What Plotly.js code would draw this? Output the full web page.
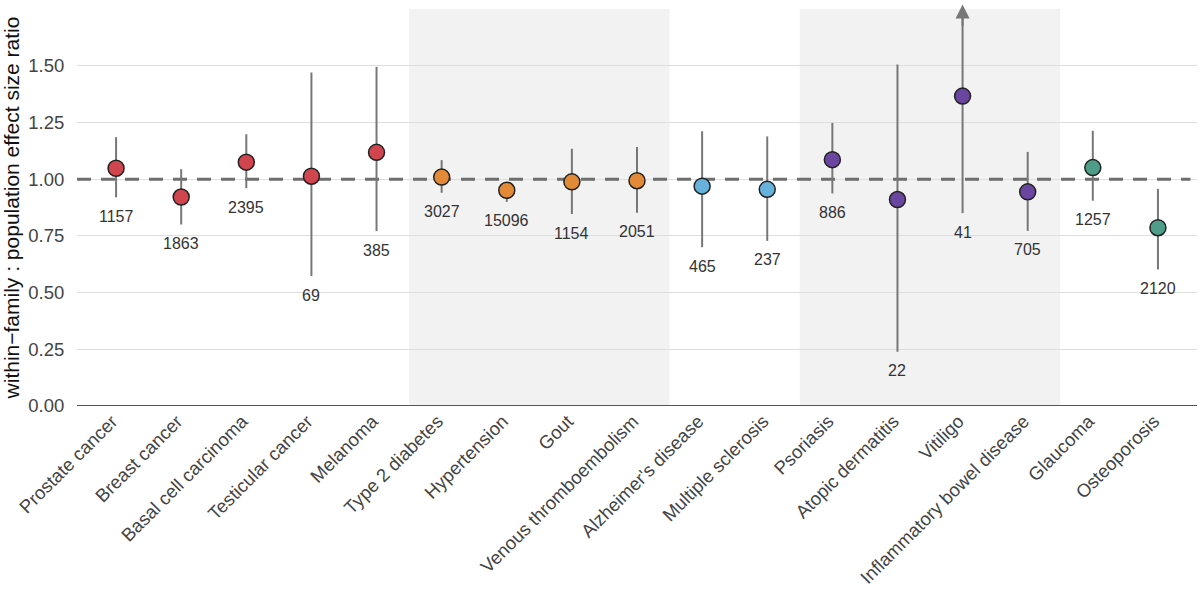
<!DOCTYPE html>
<html>
<head>
<meta charset="utf-8">
<script src="https://cdn.plot.ly/plotly-3.0.1.min.js"></script>
<style>html,body{margin:0;padding:0;background:#fff;}#chart{width:1200px;height:616px;}</style>
</head>
<body>
<div id="chart"></div>
<script>
const categories = ["Prostate cancer","Breast cancer","Basal cell carcinoma","Testicular cancer","Melanoma",
  "Type 2 diabetes","Hypertension","Gout","Venous thromboembolism",
  "Alzheimer's disease","Multiple sclerosis",
  "Psoriasis","Atopic dermatitis","Vitiligo","Inflammatory bowel disease",
  "Glaucoma","Osteoporosis"];
const groups = ["cancer","cancer","cancer","cancer","cancer",
  "metabolic","metabolic","metabolic","metabolic",
  "neuro","neuro",
  "immune","immune","immune","immune",
  "other","other"];
const ratio = [1.048,0.921,1.075,1.013,1.118, 1.009,0.951,0.988,0.993, 0.969,0.955, 1.086,0.910,1.366,0.944, 1.051,0.786];
const upper = [1.185,1.044,1.198,1.470,1.495, 1.084,0.985,1.134,1.142, 1.211,1.188, 1.248,1.505,1.770,1.120, 1.213,0.957];
const lower = [0.920,0.800,0.960,0.573,0.771, 0.940,0.900,0.846,0.852, 0.700,0.728, 0.937,0.239,0.850,0.772, 0.905,0.602];
const nCases = ["1157","1863","2395","69","385","3027","15096","1154","2051","465","237","886","22","41","705","1257","2120"];
const groupColors = {cancer:"#d0454e", metabolic:"#e38a38", neuro:"#66b2dc", immune:"#6a46a0", other:"#4f9d88"};
const shadedGroups = ["metabolic","immune"];
const yTickVals = [0,0.25,0.5,0.75,1.0,1.25,1.5,1.75];
const yTickText = ["0.00","0.25","0.50","0.75","1.00","1.25","1.50",""];
const yMax = 1.75;
const reference = 1.0;

const xIdx = categories.map((c,i)=>i);
const xRange = [-0.6, categories.length-0.4];
const font = "Liberation Sans, Arial, Helvetica, sans-serif";

const traces = [
{
  type:"scatter", mode:"lines",
  x: [xRange[0], xRange[1]-0.1], y:[reference, reference],
  line:{color:"#6e6e6e", width:3, dash:"14px,10px"},
  hoverinfo:"skip", showlegend:false
},
{
  type:"scatter", mode:"markers",
  x: xIdx, y: ratio,
  error_y:{type:"data", symmetric:false,
    array: upper.map((u,i)=>u-ratio[i]),
    arrayminus: lower.map((l,i)=>ratio[i]-l),
    color:"#777777", thickness:2, width:0},
  marker:{size:16, color: groups.map(g=>groupColors[g]), line:{color:"#222", width:1.5}},
  hoverinfo:"skip", showlegend:false
}];

const shapes = [];
shadedGroups.forEach(g=>{
  const idx = xIdx.filter(i=>groups[i]===g);
  shapes.push({type:"rect", layer:"below", xref:"x", yref:"paper",
    x0: Math.min(...idx)-0.5, x1: Math.max(...idx)+0.5, y0:0, y1:1,
    fillcolor:"#f2f2f2", line:{width:0}});
});
shapes.push({type:"line", layer:"above", xref:"paper", yref:"y", x0:0, x1:1, y0:0, y1:0,
  line:{color:"#555", width:2}});

const annotations = lower.map((l,i)=>({
  x:i, y:l, xref:"x", yref:"y", text:nCases[i], showarrow:false,
  yanchor:"middle", yshift:-19, font:{family:font, size:16, color:"#333"}
}));
upper.forEach((u,i)=>{
  if(u>yMax){
    annotations.push({x:i, y:u, ax:i, ay:yMax-0.08, xref:"x", yref:"y", axref:"x", ayref:"y",
      text:"", showarrow:true, arrowhead:2, arrowsize:1.4, arrowwidth:2, arrowcolor:"#777777"});
  }
});

const layout = {
  width:1200, height:616,
  margin:{l:77, r:3, t:9, b:210},
  paper_bgcolor:"#fff", plot_bgcolor:"rgba(0,0,0,0)",
  font:{family:font, color:"#444"},
  xaxis:{range:xRange, tickmode:"array", tickvals:xIdx, ticktext:categories,
    tickangle:-45, tickfont:{family:font, size:18.5, color:"#444"}, showgrid:false, zeroline:false,
    showline:false, ticks:"", ticklabelshift:-4},
  yaxis:{range:[0,yMax], tickmode:"array", tickvals:yTickVals, ticktext:yTickText,
    tickfont:{family:font, size:18.5, color:"#444"}, showgrid:true, gridcolor:"#dedede", gridwidth:1,
    zeroline:false, showline:false, ticks:"outside", ticklen:8, tickcolor:"rgba(0,0,0,0)",
    title:{text:"within\u2212family : population effect size ratio", font:{family:font, size:21, color:"#111"}, standoff:6}},
  shapes: shapes,
  annotations: annotations
};

Plotly.newPlot("chart", traces, layout, {staticPlot:true, displayModeBar:false});
</script>
</body>
</html>
